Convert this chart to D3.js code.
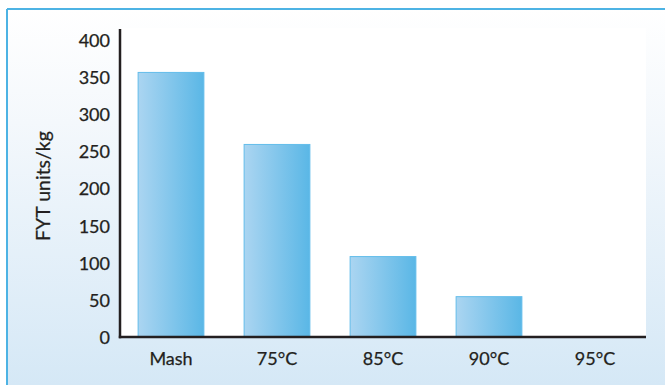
<!DOCTYPE html>
<html>
<head>
<meta charset="utf-8">
<script src="https://cdn.jsdelivr.net/npm/d3@7"></script>
<style>
html,body{margin:0;padding:0;background:#fff;}
svg{display:block;}
</style>
</head>
<body>
<svg id="chart" width="665" height="385"></svg>
<script>
const categories = ["Mash", "75°C", "85°C", "90°C", "95°C"];
const values = [357, 260, 109, 55, 0];
const yTicks = [0, 50, 100, 150, 200, 250, 300, 350, 400];
const yLabel = "FYT units/kg";

const svg = d3.select("#chart");
const W = 665, H = 385;
const defs = svg.append("defs");

const bg = defs.append("linearGradient").attr("id", "bg").attr("x1", 0).attr("y1", 0).attr("x2", 0).attr("y2", 1);
bg.append("stop").attr("offset", "0%").attr("stop-color", "#ffffff");
bg.append("stop").attr("offset", "30%").attr("stop-color", "#f4f8fc");
bg.append("stop").attr("offset", "100%").attr("stop-color", "#d5e8f6");

const barG = defs.append("linearGradient").attr("id", "barG").attr("x1", 0).attr("y1", 0).attr("x2", 1).attr("y2", 0);
barG.append("stop").attr("offset", "0%").attr("stop-color", "#abd5f1");
barG.append("stop").attr("offset", "100%").attr("stop-color", "#5ab7e6");

// panel background
svg.append("rect").attr("x", 7).attr("y", 9).attr("width", W - 7).attr("height", H - 9).attr("fill", "url(#bg)");
// border lines
svg.append("line").attr("x1", 7).attr("x2", W).attr("y1", 9).attr("y2", 9).attr("stroke", "#4db3e4").attr("stroke-width", 2);
svg.append("line").attr("x1", 7).attr("x2", 7).attr("y1", 9).attr("y2", H).attr("stroke", "#4db3e4").attr("stroke-width", 2);

const pLeft = 120, pRight = 646, pTop = 29, pBottom = 337;

const y = d3.scaleLinear().domain([0, 400]).range([pBottom, 40]);
const x = d3.scaleBand().domain(categories).range([118, 648]).paddingInner(0.37).paddingOuter(0.185);

// plot area
svg.append("rect").attr("x", pLeft).attr("y", pTop - 1).attr("width", pRight - pLeft).attr("height", pBottom - pTop + 1).attr("fill", "#ffffff");

// bars
svg.append("g").selectAll("rect").data(categories).join("rect")
  .attr("x", d => x(d) + 0.5)
  .attr("y", (d, i) => y(values[i]) + 0.5)
  .attr("width", x.bandwidth() - 1)
  .attr("height", (d, i) => Math.max(0, y(0) - y(values[i])))
  .attr("fill", "url(#barG)")
  .attr("stroke", (d, i) => values[i] > 0 ? "#63bdea" : "none")
  .attr("stroke-width", 1);

const font = "Lato, 'Open Sans', sans-serif";
const ink = "#231f20";

// y axis
const yAxis = d3.axisLeft(y).tickValues(yTicks).tickSize(0).tickPadding(10);
const ya = svg.append("g").attr("transform", `translate(${pLeft},0)`).call(yAxis);
ya.select(".domain").remove();
ya.selectAll("text").attr("font-family", font).attr("font-size", 18).attr("fill", ink)
  .attr("stroke", ink).attr("stroke-width", 0.25).attr("dy", "0.36em");

// x axis
const xAxis = d3.axisBottom(x).tickSize(0).tickPadding(14);
const xa = svg.append("g").attr("transform", `translate(0,${pBottom})`).call(xAxis);
xa.select(".domain").remove();
xa.selectAll("text").attr("font-family", font).attr("font-size", 18).attr("fill", ink)
  .attr("stroke", ink).attr("stroke-width", 0.25).attr("dy", "0.75em");

// axis lines
svg.append("line").attr("x1", pLeft).attr("x2", pLeft).attr("y1", pTop).attr("y2", pBottom + 1.2).attr("stroke", ink).attr("stroke-width", 2.5);
svg.append("line").attr("x1", pLeft - 1.2).attr("x2", pRight).attr("y1", pBottom).attr("y2", pBottom).attr("stroke", ink).attr("stroke-width", 2.5);

// y label
svg.append("text")
  .attr("transform", `translate(50,${(pTop + pBottom) / 2 + 3}) rotate(-90)`)
  .attr("text-anchor", "middle")
  .attr("font-family", font).attr("font-size", 19.5).attr("fill", ink)
  .attr("stroke", ink).attr("stroke-width", 0.25)
  .text(yLabel);
</script>
</body>
</html>
